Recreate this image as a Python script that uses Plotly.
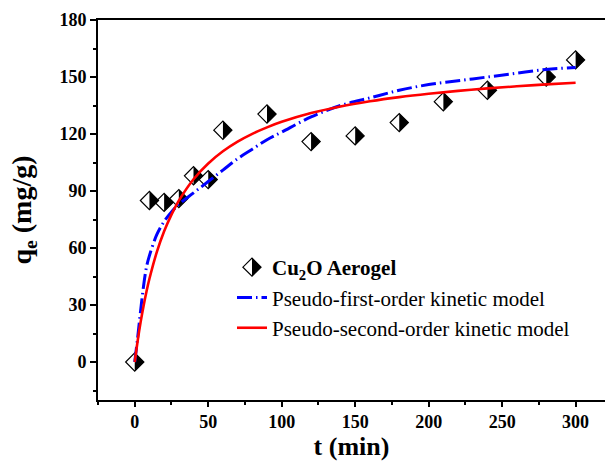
import plotly.graph_objects as go

# ---- data ----
t_exp = [0, 10, 20, 30, 40, 50, 60, 90, 120, 150, 180, 210, 240, 280, 300]
q_exp = [0, 85, 84, 86, 98, 96, 122, 130.5, 116, 119, 126, 137, 143, 150, 159]

t_model = [0, 2, 4, 6, 8, 10, 15, 20, 25, 30, 40, 50, 60, 70, 80, 90, 100,
           120, 140, 160, 180, 200, 220, 240, 260, 280, 300]
q_pfo = [0, 13, 27, 40, 50, 56, 67, 74, 79, 83, 89, 95, 101, 107, 112, 117, 121,
         129, 135, 139, 143, 146, 148, 150, 152, 154, 155]
q_pso = [0, 11.2, 21.0, 29.5, 37.1, 43.8, 57.8, 68.8, 77.6, 84.9, 96.2, 104.5, 110.9,
         116.0, 120.1, 123.5, 126.4, 131.0, 134.5, 137.2, 139.4, 141.2, 142.7, 144.0,
         145.1, 146.1, 147.0]

x_ticks = [0, 50, 100, 150, 200, 250, 300]
y_ticks = [0, 30, 60, 90, 120, 150, 180]

names = ["<b>Cu<sub>2</sub>O Aerogel</b>",
         "Pseudo-first-order kinetic model",
         "Pseudo-second-order kinetic model"]

SERIF = "Liberation Serif"
W, H = 605, 461
ML, MR, MT, MB = 98, 0, 20, 61
HALF = "M0,-9.1 L9.1,0 L0,9.1 Z"   # right (black) half of the diamond marker

fig = go.Figure()
fig.add_trace(go.Scatter(
    x=t_exp, y=q_exp, mode="markers", name=names[0],
    marker=dict(symbol="diamond", size=14, color="rgba(0,0,0,0)",
                line=dict(color="black", width=1.2)),
))
fig.add_trace(go.Scatter(
    x=t_model, y=q_pfo, mode="lines", name=names[1],
    line=dict(color="#0000FF", width=3, dash="15px,4px,1.5px,4px", shape="spline"),
))
fig.add_trace(go.Scatter(
    x=t_model, y=q_pso, mode="lines", name=names[2],
    line=dict(color="#FF0000", width=2.6, shape="spline"),
))

shapes = []
for tx, qy in zip(t_exp, q_exp):
    shapes.append(dict(type="path", xref="x", yref="y", xsizemode="pixel",
                       ysizemode="pixel", xanchor=tx, yanchor=qy, path=HALF,
                       fillcolor="black", line=dict(width=0), layer="below"))

# legend placement (paper coords)
LEG_L, LEG_T = 232, 247
leg_x = (LEG_L - ML) / (W - ML - MR)
leg_y = (H - MB - LEG_T) / (H - MT - MB)
row_h = 21 * 1.3 + 3
mk_x = (LEG_L + 20 - ML) / (W - ML - MR)
mk_y = (H - MB - (LEG_T + 5 + row_h / 2)) / (H - MT - MB)
shapes.append(dict(type="path", xref="paper", yref="paper", xsizemode="pixel",
                   ysizemode="pixel", xanchor=mk_x, yanchor=mk_y, path=HALF,
                   fillcolor="black", line=dict(width=0), layer="above"))

fig.update_layout(
    width=W, height=H,
    margin=dict(l=ML, r=MR, t=MT, b=MB, pad=0),
    paper_bgcolor="white", plot_bgcolor="white",
    font=dict(family=SERIF, color="black"),
    shapes=shapes,
    showlegend=True,
    legend=dict(x=leg_x, y=leg_y, xanchor="left", yanchor="top",
                bgcolor="rgba(0,0,0,0)", borderwidth=0,
                font=dict(family=SERIF, size=21, color="black"),
                tracegroupgap=0),
    xaxis=dict(
        range=[-25, 320], tickmode="array", tickvals=x_ticks,
        ticktext=[f"<b>{v}</b>" for v in x_ticks],
        ticks="outside", ticklen=5, tickwidth=1.5, tickcolor="black",
        minor=dict(dtick=25, ticks="outside", ticklen=3, tickwidth=1.5, tickcolor="black"),
        showline=True, linecolor="black", linewidth=1.6, mirror=True,
        showgrid=False, zeroline=False,
        tickfont=dict(family=SERIF, size=18, color="black"),
        title=dict(text="<b>t (min)</b>", font=dict(family=SERIF, size=26, color="black"),
                   standoff=7),
    ),
    yaxis=dict(
        range=[-20, 180], tickmode="array", tickvals=y_ticks,
        ticktext=[f"<b>{v}</b>" for v in y_ticks],
        ticks="outside", ticklen=6, tickwidth=1.5, tickcolor="black",
        minor=dict(dtick=15, tick0=0, ticks="outside", ticklen=3, tickwidth=1.5, tickcolor="black"),
        showline=True, linecolor="black", linewidth=1.6, mirror=False,
        showgrid=False, zeroline=False,
        tickfont=dict(family=SERIF, size=18, color="black"),
        title=dict(text="<b>q<sub>e</sub> (mg/g)</b>", font=dict(family=SERIF, size=28, color="black"),
                   standoff=20),
    ),
)

fig.write_html("out.html")
